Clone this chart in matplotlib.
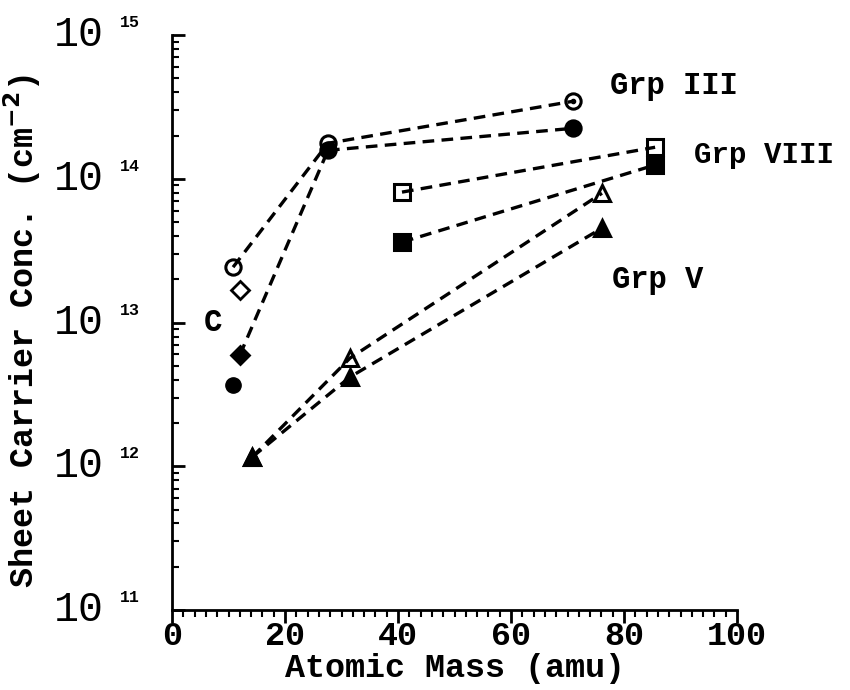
import numpy as np
import matplotlib
matplotlib.use("Agg")
import matplotlib.pyplot as plt
from matplotlib.ticker import MultipleLocator, LogLocator, NullFormatter

# Atomic mass (amu) and sheet carrier concentration (cm^-2)
grp3_open_x = [10.8, 27.6, 71.0]
grp3_open_y = [2.43e13, 1.77e14, 3.47e14]
grp3_fill_x = [12.0, 27.6, 71.0]
grp3_fill_y = [5.94e12, 1.58e14, 2.25e14]

b_fill_x = [10.8]
b_fill_y = [3.67e12]
c_open_x = [12.0]
c_open_y = [1.68e13]

grp8_open_x = [40.7, 85.5]
grp8_open_y = [8.09e13, 1.66e14]
grp8_fill_x = [40.7, 85.5]
grp8_fill_y = [3.63e13, 1.25e14]

grp5_open_x = [14.2, 31.5, 76.1]
grp5_open_y = [1.16e12, 5.66e12, 7.95e13]
grp5_fill_x = [14.2, 31.5, 76.1]
grp5_fill_y = [1.16e12, 4.18e12, 4.54e13]

xticks = [0, 20, 40, 60, 80, 100]
ydecades = [11, 12, 13, 14, 15]

FONT = "Liberation Mono"
plt.rcParams["mathtext.default"] = "bf"

fig = plt.figure(figsize=(8.5, 6.9), dpi=100)
ax = fig.add_axes([0.2024, 0.116, 0.6647, 0.833])

line_kw = dict(color="black", linestyle=(0, (3.5, 2.2)), linewidth=2.4,
               markersize=11, markeredgewidth=2.2, markeredgecolor="black")

ax.plot(grp3_open_x, grp3_open_y, marker="o", markerfacecolor="none", **line_kw)
ax.plot(grp3_fill_x[1:], grp3_fill_y[1:], marker="o", markerfacecolor="black", **line_kw)
ax.plot(grp3_fill_x[:2], grp3_fill_y[:2], marker="", **line_kw)
ax.plot(grp3_fill_x[:1], grp3_fill_y[:1], marker="D", markerfacecolor="black",
        linestyle="none", color="black", markersize=9, markeredgewidth=2)
ax.plot(b_fill_x, b_fill_y, marker="o", markerfacecolor="black", linestyle="none",
        color="black", markersize=11)
ax.plot(c_open_x, c_open_y, marker="D", markerfacecolor="none", linestyle="none",
        color="black", markersize=9, markeredgewidth=2)
# small dot inside the Ga open circle
ax.plot(grp3_open_x[-1:], grp3_open_y[-1:], marker="o", markersize=3,
        color="black", linestyle="none")

ax.plot(grp8_open_x, grp8_open_y, marker="s", markerfacecolor="none", **line_kw)
ax.plot(grp8_fill_x, grp8_fill_y, marker="s", markerfacecolor="black", **line_kw)

ax.plot(grp5_open_x, grp5_open_y, marker="^", markerfacecolor="none", **line_kw)
ax.plot(grp5_fill_x, grp5_fill_y, marker="^", markerfacecolor="black", **line_kw)

ax.set_yscale("log")
ax.set_xlim(0, 100)
ax.set_ylim(1e11, 1e15)

for s in ["top", "right"]:
    ax.spines[s].set_visible(False)
for s in ["left", "bottom"]:
    ax.spines[s].set_linewidth(2)

ax.set_xticks(xticks)
ax.xaxis.set_minor_locator(MultipleLocator(2))
ax.tick_params(axis="x", which="major", direction="out", length=9, width=2,
               labelsize=24, pad=-1)
ax.tick_params(axis="x", which="minor", direction="out", length=5, width=1.5)
for lab in ax.get_xticklabels():
    lab.set_fontfamily(FONT)
    lab.set_fontweight("bold")

ax.yaxis.set_major_locator(LogLocator(base=10, numticks=10))
ax.yaxis.set_minor_locator(LogLocator(base=10, subs=np.arange(2, 10), numticks=10))
ax.yaxis.set_major_formatter(NullFormatter())
ax.yaxis.set_minor_formatter(NullFormatter())
ax.tick_params(axis="y", which="major", direction="in", length=9, width=2)
ax.tick_params(axis="y", which="minor", direction="in", length=5, width=1.5)

for d in ydecades:
    ax.text(-0.12, 10.0 ** d, "10", transform=ax.get_yaxis_transform(),
            ha="right", va="center", fontsize=30, family=FONT)
    ax.text(-0.075, 10.0 ** d * 1.22, str(d), transform=ax.get_yaxis_transform(),
            ha="center", va="center", fontsize=12, family=FONT, fontweight="bold")

ax.set_xlabel("Atomic Mass (amu)", fontsize=24, family=FONT, fontweight="bold",
              labelpad=1)
fig.text(0.026, 0.52, "Sheet Carrier Conc. (cm$^{-2}$)", rotation=90, ha="center",
         va="center", fontsize=24, family=FONT, fontweight="bold")

ax.text(77.5, 4.4e14, "Grp III", fontsize=22, family=FONT, fontweight="bold",
        va="center", ha="left")
ax.text(92.4, 1.46e14, "Grp VIII", fontsize=21, family=FONT, fontweight="bold",
        va="center", ha="left")
ax.text(77.9, 1.98e13, "Grp V", fontsize=22, family=FONT, fontweight="bold",
        va="center", ha="left")
ax.text(7.3, 1.0e13, "C", fontsize=22, family=FONT, fontweight="bold",
        va="center", ha="center")

fig.savefig("out.png", dpi=100)
